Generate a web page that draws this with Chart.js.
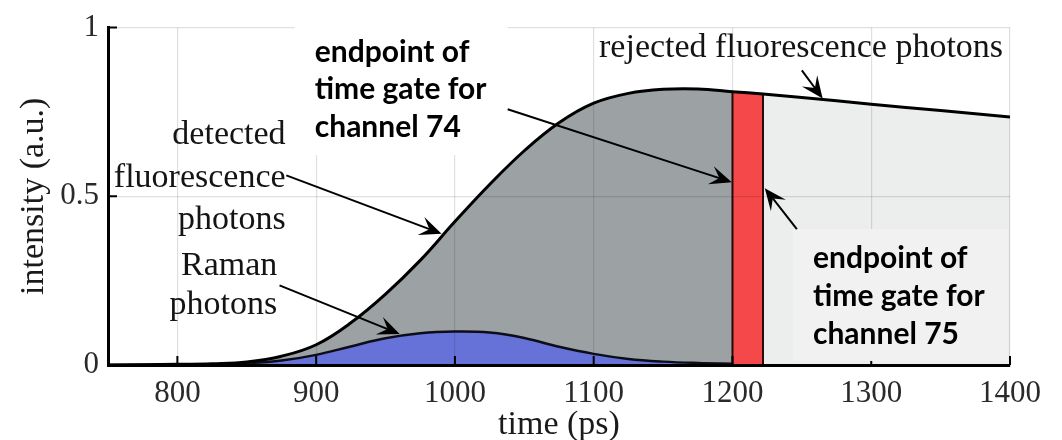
<!DOCTYPE html>
<html>
<head>
<meta charset="utf-8">
<script src="https://cdn.jsdelivr.net/npm/chart.js@4.4.1/dist/chart.umd.min.js"></script>
<style>
  html, body { margin: 0; padding: 0; background: #fff; }
  #wrap { width: 1062px; height: 440px; position: relative; }
</style>
</head>
<body>
<div id="wrap"><canvas id="chart" width="1062" height="440"></canvas></div>
<script>
// Time axis samples (ps) shared by both curves
const timePs = [750, 800, 825, 850, 875, 900, 925, 950, 975, 1000, 1025, 1050, 1075, 1100, 1125, 1150, 1175, 1200, 1222, 1250, 1300, 1350, 1400];
// Total detected signal (fluorescence + Raman), a.u.
const totalIntensity = [0, 0.002, 0.004, 0.009, 0.026, 0.06, 0.125, 0.21, 0.31, 0.425, 0.535, 0.635, 0.718, 0.776, 0.805, 0.817, 0.818, 0.81, 0.803, 0.793, 0.773, 0.754, 0.735];
// Raman contribution, up to the end of the channel 74 gate
const ramanIntensity = [0, 0.001, 0.002, 0.005, 0.013, 0.03, 0.055, 0.079, 0.094, 0.099, 0.096, 0.08, 0.054, 0.033, 0.018, 0.01, 0.006, 0.004];
// Gate endpoints (ps)
const gateStartPs = 1200;
const gateEndPs = 1222;
// Axis ticks
const xTickValues = [800, 900, 1000, 1100, 1200, 1300, 1400];
const yTickValues = [0, 0.5, 1];
const yTickLabels = ['0', '0.5', '1'];

const toPoints = (xs, ys) => ys.map((v, i) => ({ x: xs[i], y: v }));
const totalPts = toPoints(timePs, totalIntensity);
const ramanPts = toPoints(timePs, ramanIntensity);
const detectedPts = totalPts.filter(p => p.x <= gateStartPs);
const gatePts = totalPts.filter(p => p.x >= gateStartPs && p.x <= gateEndPs);
const rejectedPts = totalPts.filter(p => p.x >= gateEndPs);
const totalAt = t => totalPts.find(p => p.x === t).y;
const gateEdgePts = [
  { x: gateStartPs, y: 0 }, { x: gateStartPs, y: totalAt(gateStartPs) },
  { x: (gateStartPs + gateEndPs) / 2, y: null },
  { x: gateEndPs, y: totalAt(gateEndPs) }, { x: gateEndPs, y: 0 }
];

const SERIF = '"Liberation Serif", "Times New Roman", serif';
const BOLD = '"Lato", "Open Sans", sans-serif';

// Callouts, placed in data units (ps, a.u.)
const serifNotes = [
  { text: 'detected', x: 878, y: 0.654 },
  { text: 'fluorescence', x: 878, y: 0.527 },
  { text: 'photons', x: 878, y: 0.403 },
  { text: 'Raman', x: 872, y: 0.268 },
  { text: 'photons', x: 872, y: 0.150 },
  { text: 'rejected fluorescence photons', x: 1395, y: 0.914 }
];
const gateNotes = [
  { box: [884.5, 1038, 0.622, 1.05], fill: '#ffffff', x: 899, y: [0.899, 0.787, 0.677],
    lines: ['endpoint of', 'time gate for', 'channel 74'] },
  { box: [1243.5, 1398.5, 0.012, 0.403], fill: '#f1f1f1', x: 1258, y: [0.288, 0.176, 0.063],
    lines: ['endpoint of', 'time gate for', 'channel 75'] }
];
const arrows = [
  [878.5, 0.562, 990.4, 0.389],
  [873.6, 0.236, 960.2, 0.092],
  [1038, 0.758, 1199.5, 0.542],
  [1246.4, 0.403, 1223.3, 0.524],
  [1250, 0.873, 1265, 0.79]
];

const calloutPlugin = {
  id: 'callouts',
  afterDraw(chart) {
    const { ctx, chartArea: a } = chart;
    const sx = chart.scales.x, sy = chart.scales.y;
    const px = v => sx.getPixelForValue(v);
    const py = v => sy.getPixelForValue(v);
    ctx.save();

    // inward tick marks
    ctx.strokeStyle = '#000';
    ctx.lineWidth = 2;
    ctx.beginPath();
    xTickValues.forEach(v => { const X = px(v); ctx.moveTo(X, a.bottom); ctx.lineTo(X, a.bottom - 9); });
    yTickValues.filter(v => v > 0).forEach(v => { const Y = py(v); ctx.moveTo(a.left, Y); ctx.lineTo(a.left + 9, Y); });
    ctx.stroke();

    // label boxes for the gate endpoints
    gateNotes.forEach(n => {
      const [x0, x1, y0, y1] = n.box;
      ctx.fillStyle = n.fill;
      ctx.fillRect(px(x0), py(y1), px(x1) - px(x0), py(y0) - py(y1));
    });

    ctx.fillStyle = '#000';
    ctx.font = 'bold 30px ' + BOLD;
    ctx.textAlign = 'left';
    ctx.textBaseline = 'alphabetic';
    gateNotes.forEach(n => n.lines.forEach((t, i) => ctx.fillText(t, px(n.x), py(n.y[i]))));

    ctx.fillStyle = '#141414';
    ctx.font = '34px ' + SERIF;
    ctx.textAlign = 'right';
    serifNotes.forEach(n => ctx.fillText(n.text, px(n.x), py(n.y)));

    // arrows with swept-back heads
    ctx.strokeStyle = '#000';
    ctx.fillStyle = '#000';
    ctx.lineWidth = 2;
    arrows.forEach(([x0, y0, x1, y1]) => {
      const X0 = px(x0), Y0 = py(y0), X1 = px(x1), Y1 = py(y1);
      const ang = Math.atan2(Y1 - Y0, X1 - X0);
      const c = Math.cos(ang), s = Math.sin(ang);
      const L = 22, W = 9.5, N = 13;
      ctx.beginPath();
      ctx.moveTo(X0, Y0);
      ctx.lineTo(X1 - N * c, Y1 - N * s);
      ctx.stroke();
      ctx.beginPath();
      ctx.moveTo(X1, Y1);
      ctx.lineTo(X1 - L * c + W * s, Y1 - L * s - W * c);
      ctx.lineTo(X1 - N * c, Y1 - N * s);
      ctx.lineTo(X1 - L * c - W * s, Y1 - L * s + W * c);
      ctx.closePath();
      ctx.fill();
    });
    ctx.restore();
  }
};

const gridOpts = { color: 'rgba(0,0,0,0.12)', lineWidth: 1.2, drawTicks: false, z: 1 };
const borderOpts = { display: true, color: '#000', width: 3, z: 2 };
const tickFont = { family: SERIF, size: 31, lineHeight: 1.2 };
const titleFont = { family: SERIF, size: 34, lineHeight: 1 };
const SMOOTH = 0.4;
const area = { borderWidth: 0, pointRadius: 0, tension: SMOOTH };

new Chart(document.getElementById('chart'), {
  type: 'line',
  data: {
    datasets: [
      { label: 'total', data: totalPts, borderColor: '#000', borderWidth: 3, pointRadius: 0,
        fill: false, tension: SMOOTH, order: 0 },
      { label: 'Raman photons', data: ramanPts, borderColor: '#0d0d1a', borderWidth: 2.5, pointRadius: 0,
        backgroundColor: '#6672d8', fill: 'origin', tension: SMOOTH, order: 2 },
      { label: 'detected fluorescence photons', data: detectedPts, ...area,
        backgroundColor: '#9ca2a3', fill: 1, order: 3 },
      { label: 'gate', data: gatePts, ...area, backgroundColor: '#f5484b', fill: 'origin', order: 4 },
      { label: 'rejected fluorescence photons', data: rejectedPts, ...area,
        backgroundColor: '#eceeee', fill: 'origin', order: 5 },
      { label: 'gate edges', data: gateEdgePts, borderColor: '#2a0a0a', borderWidth: 2,
        pointRadius: 0, fill: false, spanGaps: false, tension: 0, order: 1 }
    ]
  },
  options: {
    responsive: false,
    animation: false,
    events: [],
    layout: { padding: { left: 0, right: 52, top: 18, bottom: 0 } },
    plugins: { legend: { display: false }, tooltip: { enabled: false } },
    scales: {
      x: {
        type: 'linear', min: 750, max: 1400,
        afterBuildTicks: s => { s.ticks = xTickValues.map(v => ({ value: v })); },
        afterFit: s => { s.height = 75; },
        grid: gridOpts, border: borderOpts,
        ticks: { font: tickFont, color: '#2a2a2a', padding: 10, maxRotation: 0, autoSkip: false,
          callback: v => String(v) },
        title: { display: true, text: 'time (ps)', font: titleFont, color: '#1a1a1a', padding: { top: 0, bottom: -2 } }
      },
      y: {
        type: 'linear', min: 0, max: 1,
        afterBuildTicks: s => { s.ticks = yTickValues.map(v => ({ value: v })); },
        afterFit: s => { s.width = 108; },
        grid: gridOpts, border: borderOpts,
        ticks: { font: tickFont, color: '#2a2a2a', padding: 9,
          callback: v => yTickLabels[yTickValues.indexOf(v)] },
        title: { display: true, text: 'intensity (a.u.)', font: titleFont, color: '#1a1a1a', padding: { top: 17, bottom: 0 } }
      }
    }
  },
  plugins: [calloutPlugin]
});
</script>
</body>
</html>
